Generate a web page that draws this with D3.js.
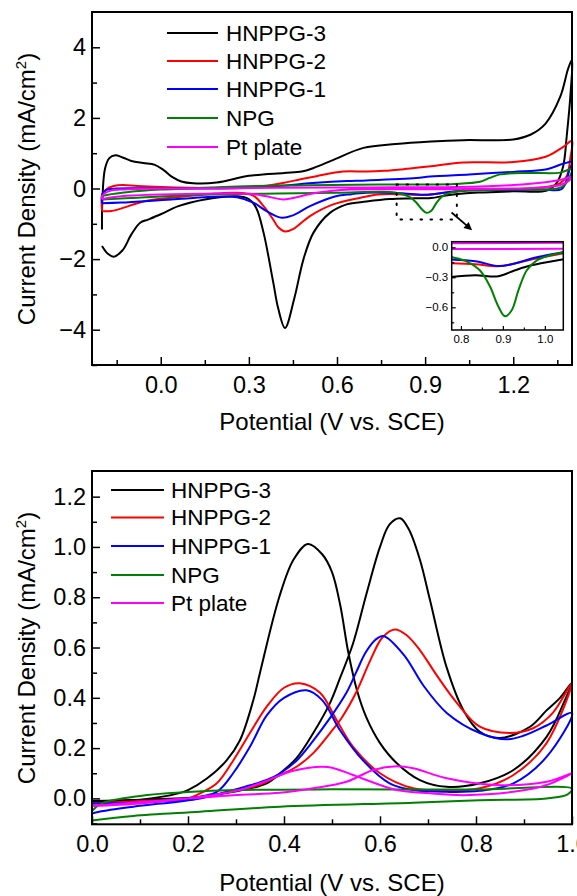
<!DOCTYPE html>
<html><head><meta charset="utf-8">
<script src="https://cdn.jsdelivr.net/npm/d3@7"></script>
<style>
html,body{margin:0;padding:0;background:#fff;}
svg text{font-family:"Liberation Sans",Arial,sans-serif;fill:#000;}
</style></head>
<body>
<svg id="c" width="577" height="896"></svg>
<script>
// ---------- DATA ----------
const seriesNames = ["HNPPG-3", "HNPPG-2", "HNPPG-1", "NPG", "Pt plate"];

// Top panel: cyclic voltammograms [potential V, current mA/cm2]
const cvHNPPG3 = [[-0.2,-1.16],[-0.199,-0.4],[-0.19,0.55],[-0.175,0.86],[-0.155,0.94],[-0.13,0.88],[-0.1,0.78],[-0.06,0.72],[-0.02,0.67],[0.01,0.52],[0.04,0.32],[0.07,0.2],[0.11,0.15],[0.19,0.17],[0.3,0.36],[0.42,0.44],[0.48,0.48],[0.52,0.58],[0.59,0.82],[0.69,1.15],[0.8,1.26],[0.92,1.33],[1.03,1.37],[1.2,1.39],[1.26,1.53],[1.31,1.84],[1.36,2.6],[1.387,3.4],[1.4,3.65],
  [1.396,2.8],[1.382,1.48],[1.37,0.63],[1.348,0.16],[1.314,-0.06],[1.2,-0.08],[1.1,-0.11],[1.03,-0.14],[0.97,-0.2],[0.92,-0.27],[0.85,-0.28],[0.78,-0.3],[0.7,-0.37],[0.633,-0.45],[0.576,-0.69],[0.52,-1.25],[0.486,-2.0],[0.455,-3.1],[0.423,-3.95],[0.4,-3.4],[0.383,-2.66],[0.35,-1.25],[0.325,-0.55],[0.3,-0.3],[0.263,-0.22],[0.15,-0.31],[0.06,-0.5],[0.0,-0.73],[-0.043,-0.88],[-0.07,-0.97],[-0.1,-1.3],[-0.13,-1.75],[-0.16,-1.93],[-0.18,-1.85],[-0.2,-1.63]];
const cvHNPPG2 = [[-0.2,-0.62],[-0.199,-0.2],[-0.185,-0.02],[-0.16,0.07],[-0.13,0.1],[-0.08,0.07],[0.0,0.04],[0.1,0.02],[0.2,0.02],[0.3,0.04],[0.36,0.08],[0.42,0.16],[0.48,0.27],[0.53,0.35],[0.62,0.48],[0.7,0.48],[0.76,0.5],[0.83,0.55],[0.92,0.63],[1.03,0.74],[1.2,0.75],[1.31,0.9],[1.37,1.18],[1.4,1.35],
  [1.395,0.9],[1.382,0.35],[1.36,0.15],[1.336,0.08],[1.25,0.0],[1.1,-0.04],[1.044,-0.06],[0.97,-0.12],[0.9,-0.18],[0.8,-0.16],[0.74,-0.17],[0.68,-0.26],[0.587,-0.45],[0.508,-0.78],[0.45,-1.15],[0.423,-1.22],[0.4,-1.1],[0.383,-0.88],[0.35,-0.5],[0.315,-0.2],[0.25,-0.12],[0.15,-0.17],[0.036,-0.26],[-0.055,-0.36],[-0.11,-0.5],[-0.168,-0.64],[-0.2,-0.64]];
const cvHNPPG1 = [[-0.2,-0.42],[-0.199,-0.15],[-0.185,-0.04],[-0.15,0.0],[-0.1,0.01],[0.0,0.0],[0.1,0.0],[0.2,0.0],[0.3,0.02],[0.4,0.07],[0.53,0.16],[0.633,0.21],[0.7,0.23],[0.87,0.3],[0.917,0.34],[1.05,0.4],[1.2,0.47],[1.31,0.54],[1.37,0.7],[1.4,0.75],
  [1.39,0.5],[1.382,0.25],[1.364,-0.02],[1.3,-0.03],[1.2,-0.04],[1.044,-0.05],[0.98,-0.1],[0.9,-0.18],[0.83,-0.14],[0.78,-0.12],[0.7,-0.12],[0.65,-0.16],[0.587,-0.24],[0.508,-0.5],[0.45,-0.76],[0.412,-0.83],[0.36,-0.64],[0.315,-0.4],[0.26,-0.25],[0.206,-0.23],[0.036,-0.31],[-0.134,-0.4],[-0.2,-0.42]];
const cvNPG = [[-0.2,-0.3],[-0.199,-0.22],[-0.18,-0.18],[-0.11,-0.1],[0.0,-0.03],[0.093,0.0],[0.263,0.06],[0.5,0.09],[0.746,0.11],[1.0,0.13],[1.087,0.19],[1.12,0.3],[1.155,0.4],[1.257,0.44],[1.36,0.45],[1.4,0.55],
  [1.39,0.3],[1.375,0.1],[1.35,0.0],[1.2,-0.03],[1.1,-0.04],[1.044,-0.05],[1.013,-0.08],[0.981,-0.13],[0.957,-0.23],[0.937,-0.43],[0.921,-0.63],[0.905,-0.69],[0.889,-0.59],[0.869,-0.39],[0.845,-0.23],[0.813,-0.14],[0.779,-0.1],[0.6,-0.12],[0.4,-0.14],[0.15,-0.17],[-0.077,-0.26],[-0.2,-0.31]];
const cvPt = [[-0.2,-0.3],[-0.199,-0.2],[-0.17,-0.06],[-0.134,-0.03],[0.0,0.0],[0.2,0.0],[0.4,0.02],[0.7,0.03],[1.0,0.045],[1.2,0.1],[1.31,0.18],[1.37,0.26],[1.4,0.33],
  [1.39,0.22],[1.36,0.1],[1.3,0.03],[1.044,-0.015],[0.78,-0.02],[0.645,-0.03],[0.53,-0.12],[0.417,-0.31],[0.36,-0.22],[0.3,-0.15],[0.15,-0.15],[-0.134,-0.22],[-0.2,-0.3]];

// Inset (zoom of 0.78-1.04 V, cathodic branch)
const inHNPPG3 = [[0.77,-0.3],[0.834,-0.28],[0.889,-0.29],[0.929,-0.23],[0.968,-0.18],[1.044,-0.12],[1.05,-0.115]];
const inHNPPG2 = [[0.77,-0.16],[0.834,-0.17],[0.889,-0.19],[0.93,-0.16],[0.981,-0.11],[1.044,-0.06],[1.05,-0.055]];
const inHNPPG1 = [[0.77,-0.12],[0.834,-0.14],[0.889,-0.187],[0.921,-0.17],[0.981,-0.1],[1.044,-0.05],[1.05,-0.045]];
const inNPG = [[0.77,-0.09],[0.779,-0.1],[0.813,-0.14],[0.845,-0.23],[0.869,-0.39],[0.889,-0.59],[0.905,-0.69],[0.921,-0.63],[0.937,-0.43],[0.957,-0.23],[0.981,-0.13],[1.013,-0.08],[1.044,-0.05],[1.05,-0.045]];
const inPtA = [[0.77,0.04],[1.05,0.045]];
const inPtB = [[0.77,-0.018],[1.05,-0.015]];

// Bottom panel: forward + reverse scans [potential V, current mA/cm2]
const ethHNPPG3 = [[0,-0.013],[0.1,-0.005],[0.18,0.02],[0.2,0.033],[0.24,0.08],[0.28,0.15],[0.308,0.23],[0.336,0.39],[0.35,0.5],[0.39,0.8],[0.42,0.95],[0.45,1.012],[0.48,0.97],[0.5,0.9],[0.517,0.77],[0.534,0.58],[0.552,0.43],[0.572,0.32],[0.6,0.22],[0.635,0.14],[0.683,0.073],[0.739,0.046],[0.808,0.06],[0.878,0.113],[0.947,0.245],[0.985,0.39],[1.0,0.46],
  [0.975,0.4],[0.947,0.35],[0.9125,0.285],[0.85,0.24],[0.808,0.265],[0.774,0.35],[0.739,0.52],[0.704,0.79],[0.683,0.95],[0.66,1.07],[0.642,1.114],[0.62,1.09],[0.6,1.0],[0.572,0.815],[0.544,0.617],[0.517,0.48],[0.496,0.38],[0.461,0.26],[0.426,0.16],[0.392,0.1],[0.364,0.06],[0.294,0.026],[0.225,0.006],[0.1,-0.005],[0,-0.01]];
const ethHNPPG2 = [[0,-0.02],[0.1,-0.01],[0.2,0.0],[0.225,0.02],[0.26,0.06],[0.294,0.15],[0.329,0.26],[0.364,0.365],[0.4,0.44],[0.433,0.458],[0.475,0.42],[0.51,0.31],[0.544,0.205],[0.6,0.1],[0.669,0.04],[0.739,0.03],[0.808,0.04],[0.878,0.093],[0.947,0.22],[1.0,0.46],
  [0.96,0.34],[0.92,0.28],[0.87,0.26],[0.808,0.285],[0.76,0.38],[0.718,0.49],[0.683,0.59],[0.655,0.65],[0.631,0.672],[0.605,0.64],[0.58,0.55],[0.55,0.42],[0.52,0.32],[0.496,0.26],[0.461,0.18],[0.426,0.126],[0.392,0.093],[0.35,0.055],[0.3,0.03],[0.2,0.0],[0,-0.02]];
const ethHNPPG1 = [[0,-0.02],[0.1,-0.015],[0.2,0.0],[0.26,0.026],[0.294,0.1],[0.329,0.205],[0.364,0.33],[0.4,0.40],[0.447,0.43],[0.48,0.39],[0.517,0.27],[0.565,0.15],[0.62,0.06],[0.669,0.033],[0.739,0.026],[0.808,0.03],[0.878,0.06],[0.947,0.165],[1.0,0.34],
  [0.947,0.29],[0.9,0.25],[0.864,0.235],[0.808,0.26],[0.739,0.34],[0.69,0.45],[0.65,0.57],[0.607,0.646],[0.59,0.63],[0.57,0.58],[0.55,0.5],[0.53,0.42],[0.496,0.32],[0.461,0.23],[0.426,0.15],[0.392,0.1],[0.364,0.073],[0.294,0.033],[0.225,0.0],[0.086,-0.033],[0.015,-0.053],[0,-0.06]];
const ethNPG = [[0,-0.05],[0.02,-0.02],[0.1,0.01],[0.2,0.025],[0.3,0.033],[0.5,0.036],[0.8,0.035],[1.0,0.038],
  [0.99,0.015],[0.947,0.0],[0.808,-0.007],[0.669,-0.017],[0.392,-0.033],[0.225,-0.053],[0.086,-0.07],[0,-0.088]];
const ethPt = [[0,-0.03],[0.1,-0.02],[0.2,0.0],[0.3,0.03],[0.35,0.06],[0.42,0.11],[0.49,0.125],[0.544,0.093],[0.572,0.073],[0.635,0.033],[0.704,0.02],[0.774,0.013],[0.878,0.026],[0.947,0.053],[1.0,0.1],
  [0.947,0.066],[0.843,0.053],[0.739,0.08],[0.669,0.12],[0.635,0.128],[0.586,0.113],[0.53,0.066],[0.461,0.04],[0.392,0.022],[0.294,0.013],[0.155,-0.007],[0.015,-0.027],[0,-0.03]];

// Tick values
const topXTicks = [0.0, 0.3, 0.6, 0.9, 1.2];
const topXMinor = [-0.15, 0.15, 0.45, 0.75, 1.05, 1.35];
const topYTicks = [-4, -2, 0, 2, 4];
const topYMinor = [-5, -3, -1, 1, 3];
const botXTicks = [0.0, 0.2, 0.4, 0.6, 0.8, 1.0];
const botXMinor = [0.1, 0.3, 0.5, 0.7, 0.9];
const botYTicks = [0.0, 0.2, 0.4, 0.6, 0.8, 1.0, 1.2];
const botYMinor = [-0.1, 0.1, 0.3, 0.5, 0.7, 0.9, 1.1];
const inXTicks = [0.8, 0.9, 1.0];
const inXMinor = [0.85, 0.95];
const inYTicks = [0.0, -0.3, -0.6];
const inYMinor = [-0.15, -0.45, -0.75];

// ---------- STYLE ----------
const colors = ["#000000", "#ff0000", "#0000ff", "#008000", "#ff00ff"];
const FS_LEG = 22.5, FS_TICK = 23.5, FS_TITLE = 24;

const svg = d3.select("#c");
svg.append("rect").attr("width", 577).attr("height", 896).attr("fill", "#fff");

function drawAxes(g, x, y, o) {
  const [x0, x1] = x.range(), [y0, y1] = y.range();
  const ax = g.append("g").attr("transform", `translate(0,${y0})`);
  ax.call(d3.axisBottom(x).tickValues(o.xt).tickFormat(d3.format(o.xf)).tickSize(-o.maj).tickPadding(o.xpad));
  const axm = g.append("g").attr("transform", `translate(0,${y0})`);
  axm.call(d3.axisBottom(x).tickValues(o.xm).tickFormat("").tickSize(-o.min));
  const ay = g.append("g").attr("transform", `translate(${x0},0)`);
  ay.call(d3.axisLeft(y).tickValues(o.yt).tickFormat(o.yfmt).tickSize(-o.maj).tickPadding(o.ypad));
  const aym = g.append("g").attr("transform", `translate(${x0},0)`);
  aym.call(d3.axisLeft(y).tickValues(o.ym).tickFormat("").tickSize(-o.min));
  [ax, axm, ay, aym].forEach(a => {
    a.select(".domain").remove();
    a.selectAll(".tick line").attr("stroke", "#000").attr("stroke-width", o.tw);
    a.selectAll("text").attr("font-size", o.fs).attr("font-family", '"Liberation Sans",Arial,sans-serif').attr("fill", "#000");
  });
  g.append("rect").attr("x", x0).attr("y", y1).attr("width", x1 - x0).attr("height", y0 - y1)
    .attr("fill", "none").attr("stroke", "#000").attr("stroke-width", o.fw);
}

function drawLegend(g, lx0, lx1, tx, ys) {
  seriesNames.forEach((n, i) => {
    g.append("line").attr("x1", lx0).attr("x2", lx1).attr("y1", ys[i]).attr("y2", ys[i])
      .attr("stroke", colors[i]).attr("stroke-width", 2);
    g.append("text").attr("x", tx).attr("y", ys[i]).attr("dy", "0.35em").attr("font-size", FS_LEG).text(n);
  });
}

function yLabel(g, cx, cy) {
  const t = g.append("text").attr("transform", `translate(${cx},${cy}) rotate(-90)`)
    .attr("text-anchor", "middle").attr("font-size", FS_TITLE);
  t.append("tspan").text("Current Density (mA/cm");
  t.append("tspan").attr("dy", -9).attr("font-size", 15).text("2");
  t.append("tspan").attr("dy", 9).text(")");
}

// ---------- TOP PANEL ----------
const xT = d3.scaleLinear().domain([-0.234, 1.4]).range([92, 572]);
const yT = d3.scaleLinear().domain([-5, 5]).range([365, 12]);
const gT = svg.append("g");
const lineT = d3.line().x(d => xT(d[0])).y(d => yT(d[1])).curve(d3.curveCatmullRom.alpha(0.5));
[cvHNPPG3, cvHNPPG2, cvHNPPG1, cvNPG, cvPt].forEach((s, i) => {
  gT.append("path").attr("d", lineT(s)).attr("fill", "none").attr("stroke", colors[i]).attr("stroke-width", 2);
});
drawAxes(gT, xT, yT, {xt: topXTicks, xm: topXMinor, yt: topYTicks, ym: topYMinor, xf: ".1f",
  yfmt: d3.format("d"), maj: 8, min: 5, xpad: 11, ypad: 6, tw: 1.5, fw: 2, fs: FS_TICK});
drawLegend(gT, 167, 218, 226, [33, 61, 89, 118, 147]);
gT.append("text").attr("x", 332).attr("y", 430).attr("text-anchor", "middle").attr("font-size", FS_TITLE).text("Potential (V vs. SCE)");
yLabel(gT, 35, 189);

// dotted zoom box + arrow
gT.append("rect").attr("x", xT(0.803)).attr("y", yT(0.11)).attr("width", xT(1.008) - xT(0.803)).attr("height", yT(-0.88) - yT(0.11))
  .attr("fill", "none").attr("stroke", "#000").attr("stroke-width", 2).attr("stroke-dasharray", "1.5,8.5").attr("stroke-linecap", "round");
const ax1 = xT(0.99), ay1 = yT(-0.68), ax2 = xT(1.06), ay2 = yT(-1.18);
const ang = Math.atan2(ay2 - ay1, ax2 - ax1);
gT.append("line").attr("x1", ax1).attr("y1", ay1).attr("x2", ax2 - 5 * Math.cos(ang)).attr("y2", ay2 - 5 * Math.sin(ang))
  .attr("stroke", "#000").attr("stroke-width", 1.8);
const ah = 8, aw = 4;
gT.append("path").attr("d", `M${ax2},${ay2} L${ax2 - ah * Math.cos(ang) + aw * Math.sin(ang)},${ay2 - ah * Math.sin(ang) - aw * Math.cos(ang)} L${ax2 - ah * Math.cos(ang) - aw * Math.sin(ang)},${ay2 - ah * Math.sin(ang) + aw * Math.cos(ang)} Z`)
  .attr("fill", "#000");

// ---------- INSET ----------
const xI = d3.scaleLinear().domain([0.778, 1.044]).range([451.7, 563.3]);
const yI = d3.scaleLinear().domain([-0.827, 0.056]).range([330, 241.7]);
const gI = svg.append("g");
gI.append("rect").attr("x", 451.7).attr("y", 241.7).attr("width", 111.6).attr("height", 88.3).attr("fill", "#fff");
svg.append("clipPath").attr("id", "clipI").append("rect").attr("x", 451.7).attr("y", 241.7).attr("width", 111.6).attr("height", 88.3);
const lineI = d3.line().x(d => xI(d[0])).y(d => yI(d[1])).curve(d3.curveCatmullRom.alpha(0.5));
const gIc = gI.append("g").attr("clip-path", "url(#clipI)");
[[inHNPPG3, 0], [inHNPPG2, 1], [inHNPPG1, 2], [inNPG, 3], [inPtA, 4], [inPtB, 4]].forEach(([s, i]) => {
  gIc.append("path").attr("d", lineI(s)).attr("fill", "none").attr("stroke", colors[i]).attr("stroke-width", 2);
});
drawAxes(gI, xI, yI, {xt: inXTicks, xm: inXMinor, yt: inYTicks, ym: inYMinor, xf: ".1f",
  yfmt: d3.format(".1f"), maj: 4, min: 2.5, xpad: 4.5, ypad: 3.5, tw: 1.2, fw: 1.5, fs: 11.5});

// ---------- BOTTOM PANEL ----------
const xB = d3.scaleLinear().domain([0, 1]).range([92, 572]);
const yB = d3.scaleLinear().domain([-0.103, 1.302]).range([824.3, 471]);
const gB = svg.append("g");
const lineB = d3.line().x(d => xB(d[0])).y(d => yB(d[1])).curve(d3.curveCatmullRom.alpha(0.5));
[ethHNPPG3, ethHNPPG2, ethHNPPG1, ethNPG, ethPt].forEach((s, i) => {
  gB.append("path").attr("d", lineB(s)).attr("fill", "none").attr("stroke", colors[i]).attr("stroke-width", 2);
});
drawAxes(gB, xB, yB, {xt: botXTicks, xm: botXMinor, yt: botYTicks, ym: botYMinor, xf: ".1f",
  yfmt: d3.format(".1f"), maj: 8, min: 5, xpad: 11, ypad: 6, tw: 1.5, fw: 2, fs: FS_TICK});
drawLegend(gB, 111, 164, 171, [490, 517.5, 546, 575, 603]);
gB.append("text").attr("x", 332).attr("y", 891).attr("text-anchor", "middle").attr("font-size", FS_TITLE).text("Potential (V vs. SCE)");
yLabel(gB, 35, 648);
</script>
</body></html>
